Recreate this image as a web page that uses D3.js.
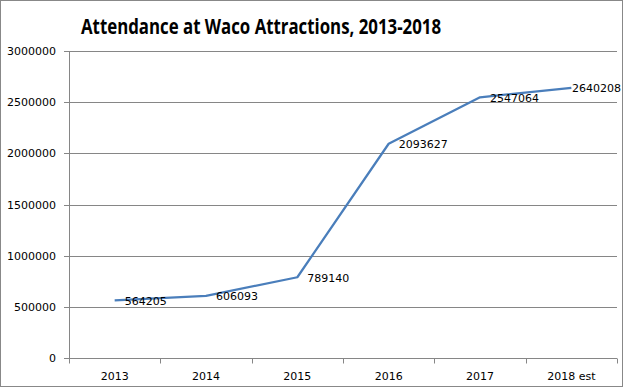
<!DOCTYPE html>
<html>
<head>
<meta charset="utf-8">
<script src="https://cdn.jsdelivr.net/npm/d3@7"></script>
<style>
  body { margin: 0; background: #fff; }
  svg { display: block; }
  text { font-family: "DejaVu Sans", sans-serif; }
</style>
</head>
<body>
<svg width="624" height="388"></svg>
<script>
// data
var years = ['2013', '2014', '2015', '2016', '2017', '2018 est'];
var attendance = [564205, 606093, 789140, 2093627, 2547064, 2640208];
var yTicks = [0, 500000, 1000000, 1500000, 2000000, 2500000, 3000000];

var svg = d3.select('svg');
var svgWidth = +svg.attr('width');
var svgHeight = +svg.attr('height');

var padding = {t: 51, r: 7, b: 30, l: 69};
var chartWidth = svgWidth - padding.l - padding.r;
var chartHeight = svgHeight - padding.t - padding.b;

// outer frame
svg.append('rect')
    .attr('x', 0.5).attr('y', 0.5)
    .attr('width', svgWidth - 2).attr('height', svgHeight - 2)
    .attr('fill', 'none')
    .attr('stroke', '#888');

svg.append('text')
    .attr('x', 261)
    .attr('y', 34)
    .attr('text-anchor', 'middle')
    .attr('font-size', 22)
    .attr('font-weight', 'bold')
    .style('font-family', '"Open Sans", sans-serif')
    .attr('textLength', 360)
    .attr('lengthAdjust', 'spacingAndGlyphs')
    .text('Attendance at Waco Attractions, 2013-2018');

var chartG = svg.append('g')
    .attr('transform', 'translate(' + [padding.l, padding.t] + ')');

var xScale = d3.scaleBand().domain(years).range([0, chartWidth]);
var yScale = d3.scaleLinear().domain([0, 3000000]).range([chartHeight, 0]);

// gridlines
chartG.selectAll('.grid')
    .data(yTicks)
    .enter()
    .append('line')
    .attr('class', 'grid')
    .attr('x1', -5)
    .attr('x2', chartWidth)
    .attr('y1', function(d) { return Math.round(yScale(d)) + 0.5; })
    .attr('y2', function(d) { return Math.round(yScale(d)) + 0.5; })
    .attr('stroke', '#868686');

// y axis
var yAxis = d3.axisLeft(yScale).tickValues(yTicks).tickSize(0).tickPadding(13)
    .tickFormat(d3.format('d'));
chartG.append('g')
    .call(yAxis)
    .call(function(g) {
        g.select('.domain').attr('stroke', '#868686');
        g.selectAll('text').attr('font-size', 11).attr('fill', '#000')
            .style('font-family', '"DejaVu Sans", sans-serif');
    });

// x axis: ticks at band edges
var edges = years.map(function(d) { return xScale(d); }).concat([chartWidth]);
var xG = chartG.append('g').attr('transform', 'translate(0,' + (Math.round(chartHeight) + 0.5) + ')');
xG.selectAll('.xtick')
    .data(edges)
    .enter()
    .append('line')
    .attr('x1', function(d) { return Math.round(d) + 0.5; })
    .attr('x2', function(d) { return Math.round(d) + 0.5; })
    .attr('y1', 0).attr('y2', 5)
    .attr('stroke', '#868686');
xG.selectAll('.xlabel')
    .data(years)
    .enter()
    .append('text')
    .attr('x', function(d) { return xScale(d) + xScale.bandwidth() / 2; })
    .attr('y', 21)
    .attr('text-anchor', 'middle')
    .attr('font-size', 11)
    .text(function(d) { return d; });

// line
var line = d3.line()
    .x(function(d, i) { return xScale(years[i]) + xScale.bandwidth() / 2; })
    .y(function(d) { return yScale(d); });

chartG.append('path')
    .datum(attendance)
    .attr('d', line)
    .attr('fill', 'none')
    .attr('stroke', '#4a7ebb')
    .attr('stroke-width', 2.25)
    .attr('stroke-linejoin', 'round');

// value labels; the last one is pulled in so it stays inside the frame
var last = attendance.length - 1;
chartG.selectAll('.vlabel')
    .data(attendance)
    .enter()
    .append('text')
    .attr('x', function(d, i) {
        return i === last ? chartWidth + 4 : xScale(years[i]) + xScale.bandwidth() / 2 + 10;
    })
    .attr('y', function(d) { return yScale(d); })
    .attr('dy', '0.4em')
    .attr('text-anchor', function(d, i) { return i === last ? 'end' : 'start'; })
    .attr('font-size', 11)
    .text(function(d) { return d; });
</script>
</body>
</html>
